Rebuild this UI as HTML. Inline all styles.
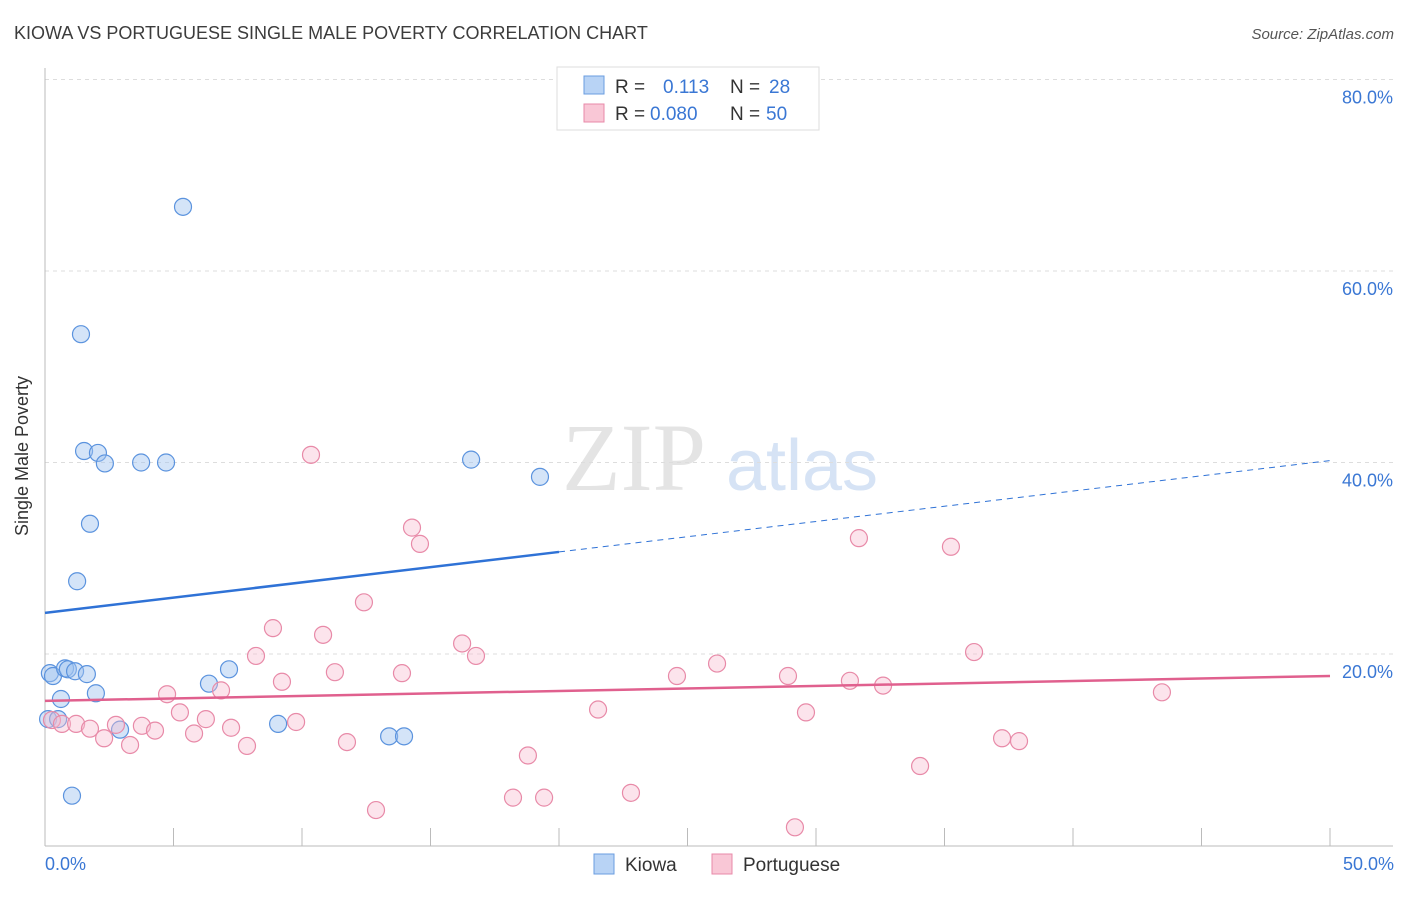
<!DOCTYPE html>
<html><head><meta charset="utf-8"><style>
body{margin:0;background:#fff;font-family:"Liberation Sans",sans-serif}
</style></head><body>
<svg id="c" width="1406" height="892" xmlns="http://www.w3.org/2000/svg" font-family="Liberation Sans, sans-serif">
<text x="14" y="39" font-size="18" fill="#3c3c3c">KIOWA VS PORTUGUESE SINGLE MALE POVERTY CORRELATION CHART</text>
<text x="1394" y="39" font-size="15" fill="#555" font-style="italic" text-anchor="end">Source: ZipAtlas.com</text>
<text x="634" y="490" font-size="96" fill="#e4e4e4" font-family="Liberation Serif, serif" text-anchor="middle">ZIP</text>
<text x="802" y="490" font-size="72" fill="#d6e3f5" text-anchor="middle">atlas</text>
<g id="grid"></g><g id="axes"></g><g id="pts"></g><g id="lines"></g>
<text x="28" y="456" font-size="18" fill="#333" text-anchor="middle" transform="rotate(-90 28 456)">Single Male Poverty</text>
<g>
<rect x="557" y="67" width="262" height="63" fill="#fff" stroke="#ddd"/>
<rect x="584" y="76" width="20" height="18" fill="#b8d3f5" stroke="#6a9de0"/>
<text x="615" y="93" font-size="19" fill="#333">R =</text><text x="663" y="93" font-size="19" fill="#3a77d4">0.113</text>
<text x="730" y="93" font-size="19" fill="#333">N =</text><text x="769" y="93" font-size="19" fill="#3a77d4">28</text>
<rect x="584" y="104" width="20" height="18" fill="#f9c7d6" stroke="#e88aa8"/>
<text x="615" y="120" font-size="19" fill="#333">R =</text><text x="650" y="120" font-size="19" fill="#3a77d4">0.080</text>
<text x="730" y="120" font-size="19" fill="#333">N =</text><text x="766" y="120" font-size="19" fill="#3a77d4">50</text>
</g>
<g>
<rect x="594" y="854" width="20" height="20" fill="#b8d3f5" stroke="#6a9de0"/>
<text x="625" y="871" font-size="19" fill="#333">Kiowa</text>
<rect x="712" y="854" width="20" height="20" fill="#f9c7d6" stroke="#e88aa8"/>
<text x="743" y="871" font-size="19" fill="#333">Portuguese</text>
</g>
<text x="45" y="870" font-size="18" fill="#3a77d4">0.0%</text>
<text x="1394" y="870" font-size="18" fill="#3a77d4" text-anchor="end">50.0%</text>
</svg>
<script>
const yTicks=[20,40,60,80];
const kiowaX=[5.37,1.40,1.52,2.06,2.33,3.74,4.71,16.58,19.26,1.75,1.25,0.19,0.31,0.78,0.89,1.17,1.63,7.16,6.38,1.98,0.62,0.12,0.51,2.92,9.07,13.39,13.97,1.05];
const kiowaY=[66.7,53.4,41.2,41.0,39.9,40.0,40.0,40.3,38.5,33.6,27.6,18.0,17.7,18.5,18.4,18.2,17.9,18.4,16.9,15.9,15.3,13.2,13.2,12.1,12.7,11.4,11.4,5.2];
const portX=[10.35,14.28,14.59,31.67,35.25,12.41,8.87,10.82,16.23,16.77,8.21,36.15,11.28,13.89,26.15,24.59,28.91,31.32,32.61,9.22,6.85,4.75,43.46,5.25,21.52,29.61,6.26,9.77,0.27,0.66,1.21,1.75,2.76,3.77,4.28,5.80,7.24,2.30,3.31,7.86,11.75,37.24,37.90,18.79,34.05,22.80,18.21,19.42,12.88,29.18];
const portY=[40.8,33.2,31.5,32.1,31.2,25.4,22.7,22.0,21.1,19.8,19.8,20.2,18.1,18.0,19.0,17.7,17.7,17.2,16.7,17.1,16.2,15.8,16.0,13.9,14.2,13.9,13.2,12.9,13.1,12.7,12.7,12.2,12.6,12.5,12.0,11.7,12.3,11.2,10.5,10.4,10.8,11.2,10.9,9.4,8.3,5.5,5.0,5.0,3.7,1.9];
const kiowaTrend=[24.3,40.2];
const portTrend=[15.1,17.7];
const X=v=>45+v*25.7, Y=v=>845.5-v*9.575;
const NS='http://www.w3.org/2000/svg';
function mk(t,a,p){const e=document.createElementNS(NS,t);for(const k in a)e.setAttribute(k,a[k]);document.getElementById(p).appendChild(e);return e;}
yTicks.forEach(t=>{
 const l=mk('line',{x1:45,x2:1393,y1:Y(t),y2:Y(t),stroke:'#ddd','stroke-dasharray':'4,4'},'grid');
 
 
 const tx=mk('text',{x:1393,y:Y(t)+24,'font-size':18,fill:'#3a77d4','text-anchor':'end'},'grid');
 tx.textContent=t.toFixed(1)+'%';
 
 
});
let ax=mk('line',{x1:45,x2:45,y1:68,y2:846,stroke:'#bbb'},'axes');


ax=mk('line',{x1:45,x2:1393,y1:846,y2:846,stroke:'#bbb'},'axes');


for(let i=0;i<=10;i++){const tk=mk('line',{x1:X(i*5),x2:X(i*5),y1:828,y2:846,stroke:'#bbb'},'axes');
 
 }
kiowaX.forEach((v,i)=>{const c=mk('circle',{cx:X(v),cy:Y(kiowaY[i]),r:8.5,fill:'rgba(160,196,240,0.45)',stroke:'#5b93de','stroke-width':1.2},'pts');
 
 });
portX.forEach((v,i)=>{const c=mk('circle',{cx:X(v),cy:Y(portY[i]),r:8.5,fill:'rgba(248,187,208,0.4)',stroke:'#e88aa8','stroke-width':1.2},'pts');
 
 });
const ky=x=>kiowaTrend[0]+(kiowaTrend[1]-kiowaTrend[0])*x/50;
let ln=mk('line',{x1:X(0),y1:Y(ky(0)),x2:X(20),y2:Y(ky(20)),stroke:'#2f72d6','stroke-width':2.5},'lines');


ln=mk('line',{x1:X(20),y1:Y(ky(20)),x2:X(50),y2:Y(ky(50)),stroke:'#2f72d6','stroke-width':1,'stroke-dasharray':'6,5'},'lines');


ln=mk('line',{x1:X(0),y1:Y(portTrend[0]),x2:X(50),y2:Y(portTrend[1]),stroke:'#e0608e','stroke-width':2.5},'lines');


</script>
</body></html>
